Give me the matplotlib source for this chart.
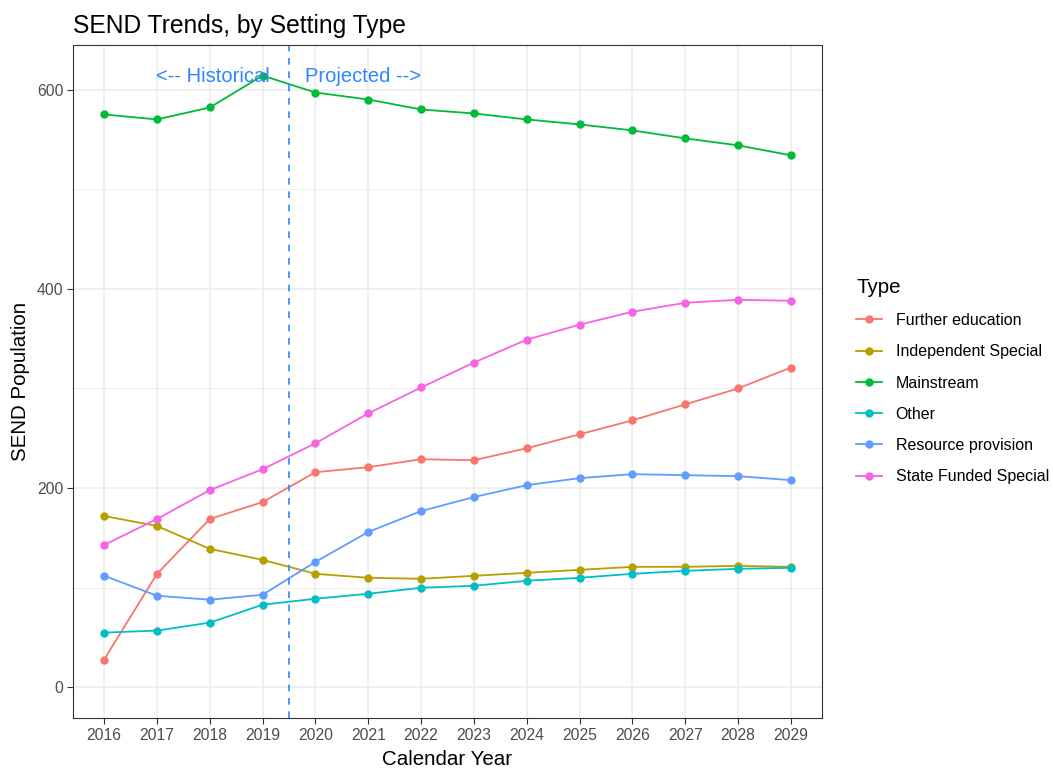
import numpy as np
import matplotlib.pyplot as plt
from matplotlib.ticker import MultipleLocator

plt.rcParams['font.family'] = ['Liberation Sans', 'DejaVu Sans']

# Data
years = list(range(2016, 2030))
further_education = [28, 114, 169, 186, 216, 221, 229, 228, 240, 254, 268, 284, 300, 321]
independent_special = [172, 162, 139, 128, 114, 110, 109, 112, 115, 118, 121, 121, 122, 121]
mainstream = [575, 570, 582, 614, 597, 590, 580, 576, 570, 565, 559, 551, 544, 534]
other = [55, 57, 65, 83, 89, 94, 100, 102, 107, 110, 114, 117, 119, 120]
resource_provision = [112, 92, 88, 93, 126, 156, 177, 191, 203, 210, 214, 213, 212, 208]
state_funded_special = [143, 169, 198, 219, 245, 275, 301, 326, 349, 364, 377, 386, 389, 388]

series = [
    ("Further education", further_education, "#F8766D"),
    ("Independent Special", independent_special, "#B79F00"),
    ("Mainstream", mainstream, "#00BA38"),
    ("Other", other, "#00BFC4"),
    ("Resource provision", resource_provision, "#619CFF"),
    ("State Funded Special", state_funded_special, "#F564E3"),
]

fig = plt.figure(figsize=(10.53, 7.69), dpi=100)
ax = fig.add_axes([73 / 1053, 51 / 769, 749 / 1053, 673 / 769])

# Grid, ggplot theme_bw style
ax.set_axisbelow(True)
ax.yaxis.set_major_locator(MultipleLocator(200))
ax.yaxis.set_minor_locator(MultipleLocator(100))
ax.set_xticks(years)
ax.grid(which='major', color='#EBEBEB', linewidth=1.1)
ax.grid(which='minor', axis='y', color='#EBEBEB', linewidth=0.6)
ax.tick_params(which='minor', length=0)
ax.tick_params(which='major', length=4, width=0.8, color='#333333',
               labelsize=11.3, labelcolor='#4D4D4D', pad=3)
for sp in ax.spines.values():
    sp.set_color('#333333')
    sp.set_linewidth(0.8)

for name, vals, col in series:
    ax.plot(years, vals, color=col, linewidth=1.3, marker='o', markersize=5, label=name)

ax.axvline(2019.5, color='#2E86FF', linestyle=(0, (4, 4)), linewidth=1.2)
ax.text(2018.05, 613, "<-- Historical", color='#2E86FF', fontsize=14.5, ha='center', va='center')
ax.text(2020.9, 613, "Projected -->", color='#2E86FF', fontsize=14.5, ha='center', va='center')

ax.set_xlim(2015.41, 2029.59)
ax.set_ylim(-30.7, 644.7)

ax.set_title("SEND Trends, by Setting Type", loc='left', fontsize=17.7, pad=9)
ax.set_xlabel("Calendar Year", fontsize=14.8, labelpad=5)
ax.set_ylabel("SEND Population", fontsize=14.8, labelpad=5)

leg = fig.legend(loc='center left', bbox_to_anchor=(842 / 1053, 1 - 381 / 769), frameon=False,
                 title="Type", title_fontsize=14.8, fontsize=11.5, labelspacing=1.02,
                 handlelength=1.6, handletextpad=0.85, alignment='left')

fig.savefig("out.png", dpi=100)
